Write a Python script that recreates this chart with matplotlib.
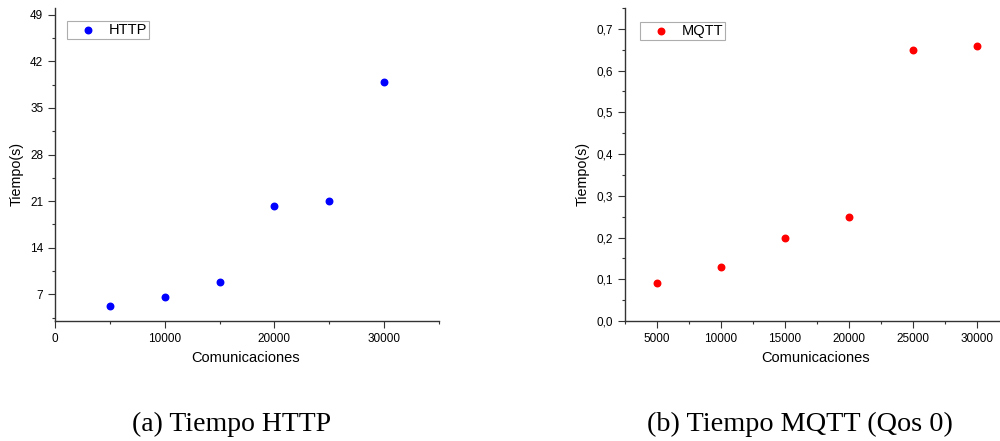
import matplotlib
matplotlib.use("Agg")
import matplotlib.pyplot as plt
from matplotlib.ticker import MultipleLocator, FuncFormatter

comunicaciones = [5000, 10000, 15000, 20000, 25000, 30000]
http_tiempo = [5.3, 6.6, 8.8, 20.3, 21.0, 38.9]
mqtt_tiempo = [0.09, 0.13, 0.20, 0.25, 0.65, 0.66]

plt.rcParams['font.family'] = ['Liberation Sans', 'DejaVu Sans']

fig = plt.figure(figsize=(10, 4.41), dpi=100)
W, H = 1000, 441

def style(ax):
    for s in ['top', 'right']:
        ax.spines[s].set_visible(False)
    for s in ['left', 'bottom']:
        ax.spines[s].set_color('#333333')
        ax.spines[s].set_linewidth(1.0)
    ax.tick_params(which='major', direction='out', length=5, width=0.8, labelsize=8.5,
                   colors='#333333', labelcolor='black')
    ax.tick_params(which='minor', direction='out', length=2.5, width=0.8, colors='#333333')

def legend(ax, x, y):
    leg = ax.legend(loc='upper left', bbox_to_anchor=(x, y), fontsize=10.5, frameon=True,
                    fancybox=False, edgecolor='#999999', handletextpad=0.1, borderpad=0.15,
                    handlelength=2.6, borderaxespad=0, scatterpoints=1)
    leg.get_frame().set_linewidth(0.8)

# Left plot
ax1 = fig.add_axes([55/W, 1-321/H, 384/W, 313/H])
ax1.scatter(comunicaciones, http_tiempo, s=22, color='#0000ff', label='HTTP', zorder=3)
ax1.set_xlim(0, 35000)
ax1.set_ylim(3, 50)
ax1.xaxis.set_major_locator(MultipleLocator(10000))
ax1.xaxis.set_minor_locator(MultipleLocator(5000))
ax1.yaxis.set_major_locator(MultipleLocator(7))
ax1.yaxis.set_minor_locator(MultipleLocator(3.5))
style(ax1)
ax1.set_xlabel('Comunicaciones', fontsize=10.5)
ax1.set_ylabel('Tiempo(s)', fontsize=10.3)
ax1.xaxis.set_label_coords(0.497, -0.118)
ax1.xaxis.label.set_va('center')
ax1.yaxis.set_label_coords(-0.099, 0.47)
ax1.yaxis.label.set_va('center')
legend(ax1, 12/384, 300/313)

# Right plot
ax2 = fig.add_axes([625/W, 1-321/H, 374/W, 313/H])
ax2.scatter(comunicaciones, mqtt_tiempo, s=22, color='#ff0000', label='MQTT', zorder=3)
ax2.set_xlim(2500, 31750)
ax2.set_ylim(0, 0.75)
ax2.xaxis.set_major_locator(MultipleLocator(5000))
ax2.xaxis.set_minor_locator(MultipleLocator(2500))
ax2.yaxis.set_major_locator(MultipleLocator(0.1))
ax2.yaxis.set_minor_locator(MultipleLocator(0.05))
ax2.yaxis.set_major_formatter(FuncFormatter(lambda v, p: f'{v:.1f}'.replace('.', ',')))
style(ax2)
ax2.set_xlabel('Comunicaciones', fontsize=10.5)
ax2.set_ylabel('Tiempo(s)', fontsize=10.3)
ax2.xaxis.set_label_coords(0.51, -0.118)
ax2.xaxis.label.set_va('center')
ax2.yaxis.set_label_coords(-0.112, 0.47)
ax2.yaxis.label.set_va('center')
legend(ax2, 15/374, 299/313)

fig.text(232/W, 1-431/H, '(a) Tiempo HTTP', family='Liberation Serif', fontsize=20,
         ha='center', va='baseline')
fig.text(800/W, 1-431/H, '(b) Tiempo MQTT (Qos 0)', family='Liberation Serif', fontsize=20.3,
         ha='center', va='baseline')

fig.savefig('out.png', dpi=100, facecolor='white')
